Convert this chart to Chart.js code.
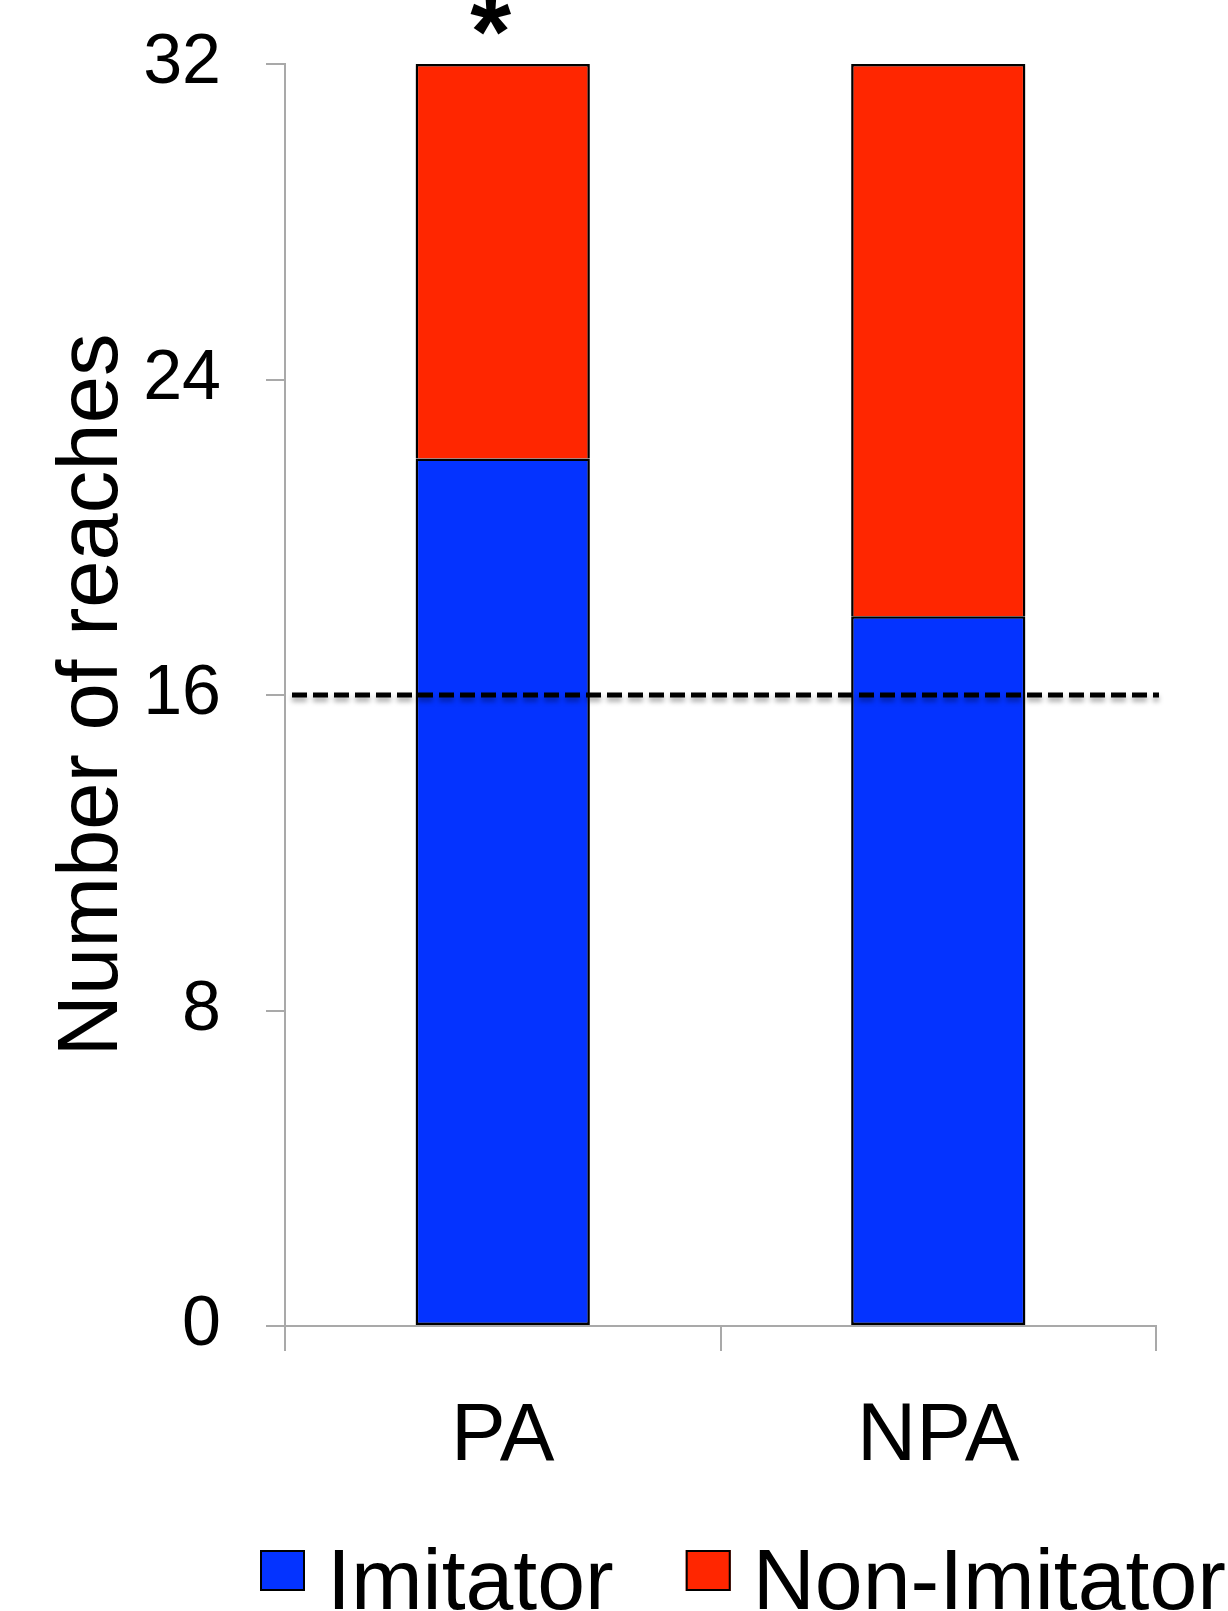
<!DOCTYPE html>
<html><head><meta charset="utf-8">
<script src="https://cdn.jsdelivr.net/npm/chart.js@4"></script>
<style>html,body{margin:0;padding:0;background:#fff;overflow:hidden}
#wrap{width:1228px;height:1611px;position:relative}
canvas{display:block}
</style></head><body><div id="wrap"><canvas id="c" width="1228" height="1611"></canvas></div>
<script>
const categories = ['PA', 'NPA'];
const imitator = [22, 18];
const nonImitator = [10, 14];
const yTicks = [0, 8, 16, 24, 32];
const chanceLevel = 16;
const significance = ['*', ''];
const seriesNames = ['Imitator', 'Non-Imitator'];
const seriesColors = ['#0433FF', '#FF2600'];

const FONT = '"Liberation Sans", Arial, Helvetica, sans-serif';
const AXIS_GRAY = '#a9a9a9';

const extras = {
  id: 'extras',
  beforeDatasetsDraw(chart) {
    const ctx = chart.ctx;
    ctx.save();
    ctx.shadowColor = 'rgba(0,0,0,0.3)';
    ctx.shadowBlur = 6;
    ctx.shadowOffsetY = 2;
  },
  afterDatasetsDraw(chart) {
    const ctx = chart.ctx;
    ctx.restore();
    const xs = chart.scales.x, ys = chart.scales.y, ca = chart.chartArea;
    // chance line
    ctx.save();
    ctx.shadowColor = 'rgba(0,0,0,0.35)';
    ctx.shadowBlur = 5;
    ctx.shadowOffsetY = 4;
    ctx.setLineDash([15, 6]);
    ctx.lineWidth = 5;
    ctx.strokeStyle = '#000';
    const yc = ys.getPixelForValue(chanceLevel);
    ctx.beginPath();
    ctx.moveTo(ca.left + 7, yc);
    ctx.lineTo(ca.right + 3, yc);
    ctx.stroke();
    ctx.restore();
    // significance marks
    ctx.save();
    ctx.fillStyle = '#000';
    ctx.font = 'bold 105px ' + FONT;
    ctx.textAlign = 'center';
    ctx.textBaseline = 'alphabetic';
    significance.forEach((s, i) => {
      if (!s) return;
      const x = xs.getPixelForValue(i) - 12;
      const y = ys.getPixelForValue(imitator[i] + nonImitator[i]) + 4;
      ctx.fillText(s, x, y);
    });
    ctx.restore();
    // legend
    ctx.save();
    ctx.font = '86px ' + FONT;
    ctx.textBaseline = 'alphabetic';
    ctx.textAlign = 'left';
    let lx = 260;
    chart.data.datasets.forEach((ds) => {
      ctx.fillStyle = ds.backgroundColor;
      ctx.fillRect(lx, 1550, 45, 41);
      ctx.lineWidth = 2;
      ctx.strokeStyle = '#000';
      ctx.strokeRect(lx + 1, 1551, 43, 39);
      ctx.fillStyle = '#000';
      ctx.fillText(ds.label, lx + 67, 1609);
      lx += 67 + ctx.measureText(ds.label).width + 72;
    });
    ctx.restore();
  }
};

new Chart(document.getElementById('c'), {
  type: 'bar',
  data: {
    labels: categories,
    datasets: [
      { label: seriesNames[0], data: imitator, backgroundColor: seriesColors[0], borderSkipped: false },
      { label: seriesNames[1], data: nonImitator, backgroundColor: seriesColors[1], borderSkipped: 'bottom' }
    ].map(d => Object.assign(d, {
      borderColor: '#000', borderWidth: 2.5,
      barPercentage: 0.4, categoryPercentage: 1
    }))
  },
  options: {
    responsive: false,
    animation: false,
    devicePixelRatio: 1,
    layout: { padding: { top: 64, right: 72, bottom: 135, left: 0 } },
    plugins: { legend: { display: false }, tooltip: { enabled: false } },
    scales: {
      x: {
        stacked: true,
        grid: { display: true, drawOnChartArea: false, drawTicks: true, tickLength: 25, color: AXIS_GRAY, lineWidth: 2, offset: true },
        border: { display: true, color: AXIS_GRAY, width: 2 },
        ticks: { font: { size: 82, family: FONT }, color: '#000', padding: 37 },
        afterFit: s => { s.height = 150; s.paddingLeft = 0; s.paddingRight = 0; }
      },
      y: {
        stacked: true,
        min: 0, max: 32,
        afterBuildTicks: s => { s.ticks = yTicks.map(v => ({ value: v })); },
        grid: { display: true, drawOnChartArea: false, drawTicks: true, tickLength: 19, color: AXIS_GRAY, lineWidth: 2 },
        border: { display: true, color: AXIS_GRAY, width: 2 },
        ticks: { font: { size: 70, family: FONT }, color: '#000', padding: 45 },
        title: { display: true, text: 'Number of reaches', color: '#000', font: { size: 85, family: FONT, lineHeight: 1.2 }, padding: { top: 43, bottom: 0 } },
        afterFit: s => { s.width = 285; s.paddingTop = 0; s.paddingBottom = 0; }
      }
    }
  },
  plugins: [extras]
});
</script></body></html>
